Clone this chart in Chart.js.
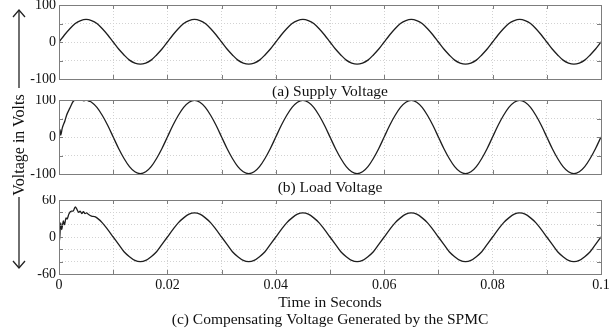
<!DOCTYPE html>
<html lang="en">
<head>
  <meta charset="UTF-8">
  <title>Supply, Load and Compensating Voltage</title>
  <script src="https://cdn.jsdelivr.net/npm/chart.js"></script>
  <style>
    body { margin: 0; background: #fff; }
    #page { position: relative; width: 614px; height: 332px; overflow: hidden; font-family: "Liberation Serif", serif; }
    .panel { position: absolute; left: 0; width: 614px; }
    #ylabel { position: absolute; left: 19px; top: 145px; transform: translate(-50%, -50%) rotate(-90deg); font-size: 16px; white-space: nowrap; color: #111; z-index: 2; }
    #arrows { position: absolute; left: 0; top: 0; z-index: 2; }
  </style>
</head>
<body>
<div id="page">
  <div class="panel" style="top:0; height:101px;"><canvas id="supplyChart"></canvas></div>
  <div class="panel" style="top:95px; height:102px;"><canvas id="loadChart"></canvas></div>
  <div class="panel" style="top:195px; height:137px;"><canvas id="compChart"></canvas></div>
  <svg id="arrows" width="40" height="332">
    <line x1="19" y1="88" x2="19" y2="10" stroke="#222" stroke-width="1.3"/>
    <polyline points="13,17 19,10 25,17" fill="none" stroke="#222" stroke-width="1.3"/>
    <line x1="19" y1="197" x2="19" y2="268" stroke="#222" stroke-width="1.3"/>
    <polyline points="13,261 19,268 25,261" fill="none" stroke="#222" stroke-width="1.3"/>
  </svg>
  <div id="ylabel">Voltage in Volts</div>
</div>

<script>
  // sample times in seconds (1 ms steps)
  const timeS = [
    0, 0.001, 0.002, 0.003, 0.004, 0.005, 0.006, 0.007, 0.008, 0.009,
    0.010, 0.011, 0.012, 0.013, 0.014, 0.015, 0.016, 0.017, 0.018, 0.019,
    0.020, 0.021, 0.022, 0.023, 0.024, 0.025, 0.026, 0.027, 0.028, 0.029,
    0.030, 0.031, 0.032, 0.033, 0.034, 0.035, 0.036, 0.037, 0.038, 0.039,
    0.040, 0.041, 0.042, 0.043, 0.044, 0.045, 0.046, 0.047, 0.048, 0.049,
    0.050, 0.051, 0.052, 0.053, 0.054, 0.055, 0.056, 0.057, 0.058, 0.059,
    0.060, 0.061, 0.062, 0.063, 0.064, 0.065, 0.066, 0.067, 0.068, 0.069,
    0.070, 0.071, 0.072, 0.073, 0.074, 0.075, 0.076, 0.077, 0.078, 0.079,
    0.080, 0.081, 0.082, 0.083, 0.084, 0.085, 0.086, 0.087, 0.088, 0.089,
    0.090, 0.091, 0.092, 0.093, 0.094, 0.095, 0.096, 0.097, 0.098, 0.099,
    0.100
  ];

  // (a) supply voltage
  const supplyV = [
    0, 19, 36, 50, 58, 61, 58, 50, 36, 19,
    0, -19, -35, -49, -57, -60, -57, -49, -35, -19,
    0, 19, 36, 50, 58, 61, 58, 50, 36, 19,
    0, -19, -35, -49, -57, -60, -57, -49, -35, -19,
    0, 19, 36, 50, 58, 61, 58, 50, 36, 19,
    0, -19, -35, -49, -57, -60, -57, -49, -35, -19,
    0, 19, 36, 50, 58, 61, 58, 50, 36, 19,
    0, -19, -35, -49, -57, -60, -57, -49, -35, -19,
    0, 19, 36, 50, 58, 61, 58, 50, 36, 19,
    0, -19, -35, -49, -57, -60, -57, -49, -35, -19,
    0
  ];

  // (b) load voltage
  const loadV = [
    0, 42, 78, 99, 100, 99, 94, 80, 58, 31,
    0, -31, -58, -80, -94, -99, -94, -80, -58, -31,
    0, 31, 58, 80, 94, 99, 94, 80, 58, 31,
    0, -31, -58, -80, -94, -99, -94, -80, -58, -31,
    0, 31, 58, 80, 94, 99, 94, 80, 58, 31,
    0, -31, -58, -80, -94, -99, -94, -80, -58, -31,
    0, 31, 58, 80, 94, 99, 94, 80, 58, 31,
    0, -31, -58, -80, -94, -99, -94, -80, -58, -31,
    0, 31, 58, 80, 94, 99, 94, 80, 58, 31,
    0, -31, -58, -80, -94, -99, -94, -80, -58, -31,
    0
  ];
  // start-up transient of the load voltage, finer steps
  const loadHeadT = [0, 0.0002, 0.0003, 0.0006, 0.0011, 0.0014, 0.002, 0.0026, 0.0031, 0.0036, 0.0041, 0.0046, 0.0051, 0.0055];
  const loadHeadV = [0, 20, 5, 24, 44, 59, 78, 96, 100, 99, 100, 98, 100, 97];

  // (c) compensating voltage
  const compV = [
    0, 20, 49, 40, 41, 38, 34, 31, 23, 12,
    0, -12, -24, -32, -38, -40, -38, -32, -24, -12,
    0, 12, 23, 31, 37, 39, 37, 31, 23, 12,
    0, -12, -24, -32, -38, -40, -38, -32, -24, -12,
    0, 12, 23, 31, 37, 39, 37, 31, 23, 12,
    0, -12, -24, -32, -38, -40, -38, -32, -24, -12,
    0, 12, 23, 31, 37, 39, 37, 31, 23, 12,
    0, -12, -24, -32, -38, -40, -38, -32, -24, -12,
    0, 12, 23, 31, 37, 39, 37, 31, 23, 12,
    0, -12, -24, -32, -38, -40, -38, -32, -24, -12,
    0
  ];
  const compHeadT = [0, 0.0001, 0.0003, 0.0005, 0.0008, 0.001, 0.0013, 0.0015, 0.0018, 0.0023, 0.0026, 0.003, 0.0033, 0.0036, 0.0039, 0.0042, 0.0045, 0.0048, 0.0051, 0.0054, 0.006, 0.0066];
  const compHeadV = [0, -7, 23, 12, 26, 20, 31, 29, 37, 42, 42, 49, 45, 40, 42, 38, 41, 38, 39, 37, 34, 33];

  // tick labels
  const xTickLabels = ['0', '0.02', '0.04', '0.06', '0.08', '0.1'];
  const yLabelsAB = ['-100', '0', '100'];
  const yLabelsC = ['-60', '0', '60'];

  const serif = '"Liberation Serif", "Times New Roman", serif';

  function toPoints(ts, vs) {
    return ts.map((t, i) => ({ x: t, y: vs[i] }));
  }
  function withHead(headT, headV, vals) {
    const last = headT[headT.length - 1];
    return toPoints(headT, headV).concat(toPoints(timeS, vals).filter(p => p.x > last));
  }

  // box round the plot plus the small inward ticks
  const framePlugin = {
    id: 'frame',
    afterDatasetsDraw(chart) {
      const { ctx, chartArea: a, scales: { x, y } } = chart;
      ctx.save();
      ctx.strokeStyle = '#7d7d7d';
      ctx.lineWidth = 1;
      ctx.beginPath();
      x.ticks.forEach(t => {
        const px = Math.round(x.getPixelForValue(t.value)) + 0.5;
        ctx.moveTo(px, a.bottom); ctx.lineTo(px, a.bottom - 4);
        ctx.moveTo(px, a.top); ctx.lineTo(px, a.top + 4);
      });
      y.ticks.forEach(t => {
        const py = Math.round(y.getPixelForValue(t.value)) + 0.5;
        ctx.moveTo(a.left, py); ctx.lineTo(a.left + 4, py);
        ctx.moveTo(a.right, py); ctx.lineTo(a.right - 4, py);
      });
      ctx.stroke();
      ctx.strokeRect(Math.round(a.left) + 0.5, Math.round(a.top) + 0.5, Math.round(a.width), Math.round(a.height));
      ctx.restore();
    }
  };

  function makePanel(id, points, yMax, yStep, yLabels, title, showXTicks, xHeight, titlePad) {
    new Chart(document.getElementById(id), {
      type: 'line',
      data: {
        datasets: [{
          data: points,
          borderColor: '#1e1e1e',
          borderWidth: 1.3,
          pointRadius: 0,
          fill: false,
          cubicInterpolationMode: 'monotone'
        }]
      },
      options: {
        responsive: true,
        maintainAspectRatio: false,
        animation: false,
        devicePixelRatio: 1,
        layout: { padding: { top: 5, right: 13, left: 0, bottom: 0 } },
        plugins: { legend: { display: false }, tooltip: { enabled: false } },
        scales: {
          x: {
            type: 'linear',
            min: 0,
            max: 0.1,
            grid: { color: '#d2d2d2', drawTicks: false },
            border: { display: false, dash: [1, 2] },
            ticks: {
              display: showXTicks,
              stepSize: 0.01,
              autoSkip: false,
              maxRotation: 0,
              padding: 3,
              color: '#111',
              font: { family: serif, size: 14 },
              callback: v => {
                const k = Math.round(v * 100);
                return k % 2 === 0 ? xTickLabels[k / 2] : '';
              }
            },
            title: {
              display: true,
              text: title,
              color: '#111',
              font: { family: serif, size: 15.5, lineHeight: 1.12 },
              padding: { top: 0, bottom: titlePad }
            },
            afterFit: s => { s.height = xHeight; s.paddingLeft = 0; s.paddingRight = 0; }
          },
          y: {
            min: -yMax,
            max: yMax,
            grid: { color: '#d2d2d2', drawTicks: false },
            border: { display: false, dash: [1, 2] },
            ticks: {
              stepSize: yStep,
              autoSkip: false,
              padding: 3,
              color: '#111',
              font: { family: serif, size: 14 },
              callback: v => {
                const s = String(Math.round(v));
                return yLabels.includes(s) ? s : '';
              }
            },
            afterFit: s => { s.width = 59; s.paddingTop = 0; s.paddingBottom = 0; }
          }
        }
      },
      plugins: [framePlugin]
    });
  }

  makePanel('supplyChart', toPoints(timeS, supplyV), 100, 50, yLabelsAB, '(a) Supply Voltage', false, 22, 0);
  makePanel('loadChart', withHead(loadHeadT, loadHeadV, loadV), 100, 50, yLabelsAB, '(b) Load Voltage', false, 23, 0);
  makePanel('compChart', withHead(compHeadT, compHeadV, compV), 60, 20, yLabelsC,
    ['Time in Seconds', '(c) Compensating Voltage Generated by the SPMC'], true, 58, 3);
</script>
</body>
</html>
